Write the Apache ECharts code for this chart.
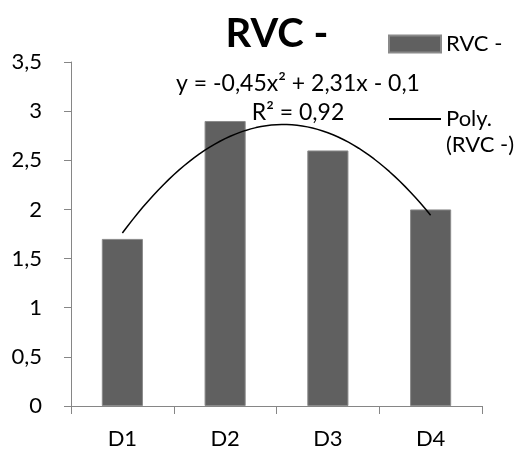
<!DOCTYPE html>
<html>
<head>
<meta charset="utf-8">
<script src="https://cdn.jsdelivr.net/npm/echarts@6/dist/echarts.min.js"></script>
<style>
  html, body { margin: 0; padding: 0; background: #fff; }
  #chart { width: 520px; height: 450px; }
</style>
</head>
<body>
<div id="chart"></div>
<script>
// Chart data
const categories = ['D1', 'D2', 'D3', 'D4'];
const rvcValues = [1.7, 2.9, 2.6, 2.0];
const yTicks = [0, 0.5, 1, 1.5, 2, 2.5, 3, 3.5];
// Second-order polynomial trend coefficients: a*x^2 + b*x + c
const trendCoeffs = [-0.45, 2.31, -0.1];
const trendR2 = 0.92;

const FONT = 'Lato, "Open Sans", sans-serif';
const FS = 22;
const fmt = v => String(v).replace('.', ',');

// Trend curve sampled along the category positions (1..n)
const trendPoints = [];
const steps = 60;
for (let i = 0; i <= steps; i++) {
  const x = 1 + (categories.length - 1) * i / steps;
  const [a, b, c] = trendCoeffs;
  trendPoints.push([x, a * x * x + b * x + c]);
}

const eqText = 'y = ' + fmt(trendCoeffs[0]) + 'x² + ' + fmt(trendCoeffs[1]) + 'x - ' + fmt(Math.abs(trendCoeffs[2]));
const r2Text = 'R² = ' + fmt(trendR2.toFixed(2));

const chart = echarts.init(document.getElementById('chart'), null, { renderer: 'canvas' });
chart.setOption({
  animation: false,
  backgroundColor: '#ffffff',
  title: {
    text: 'RVC -',
    left: 277,
    top: 14,
    padding: 0,
    textAlign: 'center',
    textStyle: { fontFamily: FONT, fontSize: 40, fontWeight: 'bold', color: '#000' }
  },
  legend: {
    orient: 'vertical',
    left: 388, top: 33,
    padding: 0,
    itemWidth: 52, itemHeight: 17, itemGap: 53,
    data: [
      { name: 'RVC -', icon: 'rect' },
      { name: 'Poly. (RVC -)', itemStyle: { opacity: 0 } }
    ],
    formatter: name => (name === 'Poly. (RVC -)' ? 'Poly.' : name),
    textStyle: { fontFamily: FONT, fontSize: FS, color: '#000' }
  },
  graphic: [
    {
      type: 'text', x: 446, y: 145,
      style: { text: '(RVC -)', fontFamily: FONT, fontSize: FS, fill: '#000', verticalAlign: 'middle' }
    },
    {
      type: 'text', x: 298, y: 84,
      style: { text: eqText, fontFamily: FONT, fontSize: 23, fill: '#000', align: 'center', verticalAlign: 'middle' }
    },
    {
      type: 'text', x: 298, y: 113,
      style: { text: r2Text, fontFamily: FONT, fontSize: 23, fill: '#000', align: 'center', verticalAlign: 'middle' }
    }
  ],
  grid: { left: 71, right: 38, top: 62, bottom: 43, containLabel: false },
  xAxis: [
    {
      type: 'category',
      data: categories,
      axisLine: { lineStyle: { color: '#868686', width: 1 } },
      axisTick: { show: true, length: 8, lineStyle: { color: '#868686' } },
      axisLabel: { fontFamily: FONT, fontSize: FS, color: '#000', margin: 22 }
    },
    {
      type: 'value', min: 0.5, max: categories.length + 0.5, show: false
    }
  ],
  yAxis: {
    type: 'value',
    min: yTicks[0],
    max: yTicks[yTicks.length - 1],
    interval: 0.5,
    axisLine: { show: true, lineStyle: { color: '#868686', width: 1 } },
    axisTick: { show: true, length: 7, lineStyle: { color: '#868686' } },
    splitLine: { show: false },
    axisLabel: { fontFamily: FONT, fontSize: FS, color: '#000', margin: 29, formatter: v => fmt(v) }
  },
  series: [
    {
      name: 'RVC -',
      type: 'bar',
      data: rvcValues,
      barWidth: '40%',
      itemStyle: { color: '#606060', borderColor: '#8a8a8a', borderWidth: 1 }
    },
    {
      name: 'Poly. (RVC -)',
      type: 'line',
      xAxisIndex: 1,
      data: trendPoints,
      showSymbol: false,
      symbol: 'none',
      smooth: false,
      lineStyle: { color: '#000', width: 1.5 },
      itemStyle: { color: '#000' }
    }
  ]
});
</script>
</body>
</html>
